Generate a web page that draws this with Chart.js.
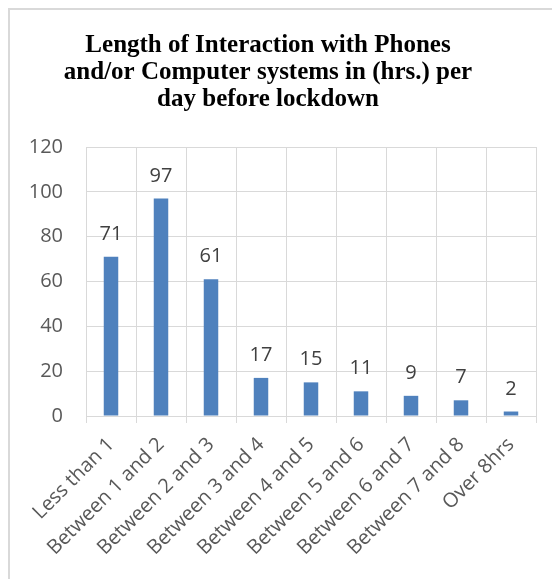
<!DOCTYPE html>
<html>
<head>
<meta charset="utf-8">
<script src="https://cdn.jsdelivr.net/npm/chart.js@4.4.1/dist/chart.umd.min.js"></script>
<style>
  html, body { margin: 0; padding: 0; background: #fff; }
  #wrap { position: relative; width: 552px; height: 579px; overflow: hidden; }
  #frame { position: absolute; left: 8px; top: 8px; width: 600px; height: 600px;
           border-left: 2px solid #d9d9d9; border-top: 2px solid #d9d9d9; box-sizing: border-box; }
  canvas { position: absolute; left: 0; top: 0; }
</style>
</head>
<body>
<div id="wrap">
  <div id="frame"></div>
  <canvas id="c" width="552" height="579"></canvas>
</div>
<script>
const chartTitle = [
  'Length of Interaction with Phones',
  'and/or Computer systems in (hrs.) per',
  'day before lockdown'
];
const categories = [
  'Less than 1', 'Between 1 and 2', 'Between 2 and 3', 'Between 3 and 4',
  'Between 4 and 5', 'Between 5 and 6', 'Between 6 and 7', 'Between 7 and 8', 'Over 8hrs'
];
const respondents = [71, 97, 61, 17, 15, 11, 9, 7, 2];
const yTicks = [0, 20, 40, 60, 80, 100, 120];

const gridColor = '#d9d9d9';
const labelFont = { family: '"Open Sans", sans-serif', size: 20 };

// Value labels drawn above each bar from the bar elements' own positions
const valueLabels = {
  id: 'valueLabels',
  afterDatasetsDraw(chart) {
    const ctx = chart.ctx;
    const meta = chart.getDatasetMeta(0);
    const data = chart.data.datasets[0].data;
    ctx.save();
    ctx.font = `${labelFont.size}px ${labelFont.family}`;
    ctx.fillStyle = '#404040';
    ctx.textAlign = 'center';
    ctx.textBaseline = 'alphabetic';
    meta.data.forEach((bar, i) => {
      ctx.fillText(String(data[i]), bar.x, bar.y - 17);
    });
    ctx.restore();
  }
};

new Chart(document.getElementById('c'), {
  type: 'bar',
  data: {
    labels: categories,
    datasets: [{
      data: respondents,
      backgroundColor: '#4f81bd',
      borderWidth: 0,
      categoryPercentage: 1,
      barPercentage: 0.29
    }]
  },
  options: {
    responsive: false,
    animation: false,
    devicePixelRatio: 1,
    layout: { padding: { left: 0, right: 16, top: 0, bottom: 0 } },
    plugins: {
      legend: { display: false },
      tooltip: { enabled: false },
      title: {
        display: true,
        text: chartTitle,
        color: '#000',
        font: { family: '"Liberation Serif", serif', size: 25, weight: 'bold', lineHeight: '27px' },
        padding: { top: 32, bottom: 34 }
      }
    },
    scales: {
      x: {
        offset: true,
        grid: { offset: true, color: gridColor, lineWidth: 1, drawTicks: true, tickLength: 7, tickColor: gridColor },
        border: { display: true, color: gridColor },
        ticks: {
          color: '#595959', font: labelFont,
          maxRotation: 45, minRotation: 45, padding: 10, autoSkip: false
        },
        afterFit(scale) { scale.height = 163; }
      },
      y: {
        min: 0, max: 120,
        afterBuildTicks(scale) { scale.ticks = yTicks.map(v => ({ value: v })); },
        grid: { color: gridColor, lineWidth: 1, drawTicks: false },
        border: { display: false },
        ticks: { color: '#595959', font: labelFont, padding: 23 },
        afterFit(scale) { scale.width = 86; }
      }
    }
  },
  plugins: [valueLabels]
});
</script>
</body>
</html>
